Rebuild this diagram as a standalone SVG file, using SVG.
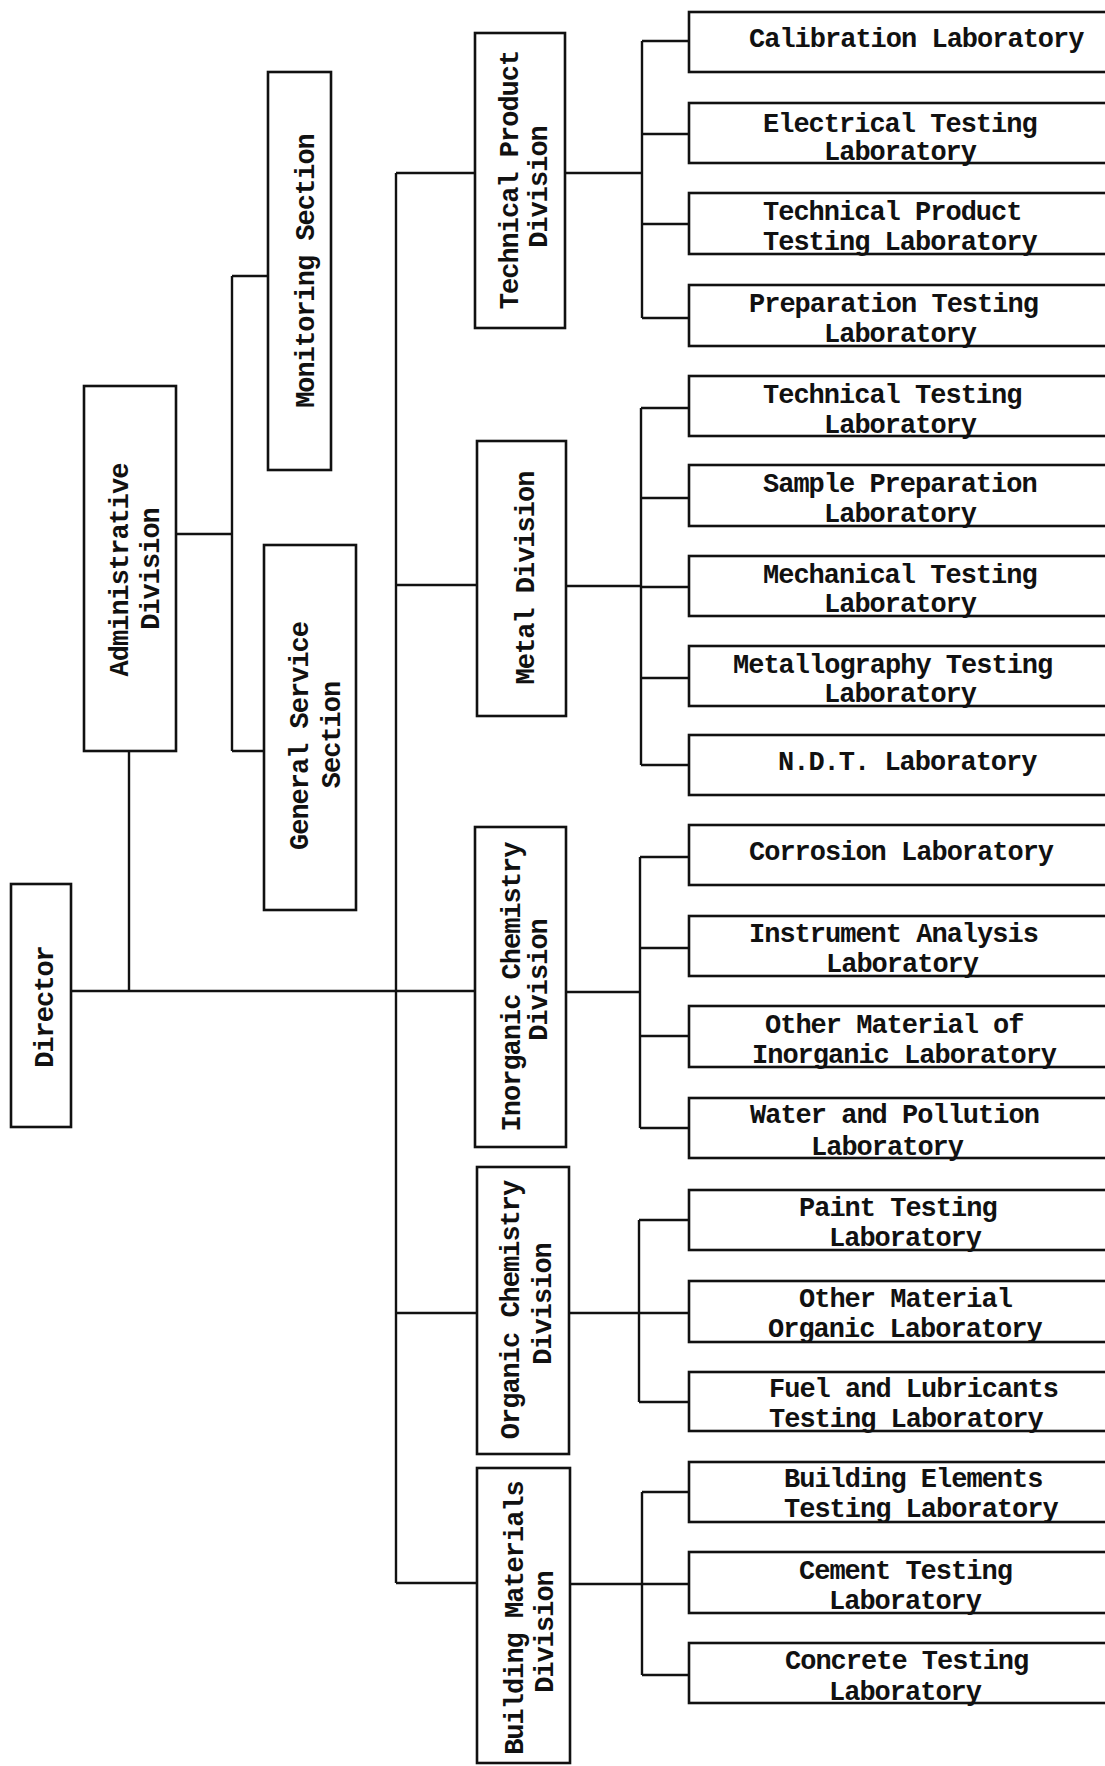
<svg xmlns="http://www.w3.org/2000/svg" width="1105" height="1766" viewBox="0 0 1105 1766">
<style>
.bx{fill:none;stroke:#111;stroke-width:2.6}
.ln{fill:none;stroke:#111;stroke-width:2.4}
text{font-family:"Liberation Mono","DejaVu Sans Mono",monospace;font-size:27px;letter-spacing:-1px;font-weight:bold;fill:#111}
.r{text-anchor:middle}
</style>
<rect width="1105" height="1766" fill="#fff"/>
<g id="connectors" class="ln">
<path d="M72,991H475M129,751V991M176,534H232M232,276V751M232,276H268M232,751H264"/>
<path d="M396,173V1583M396,173H475M396,585H477M396,1313H477M396,1583H477"/>
<path d="M565,173H642M642,41V318M642,41H689M642,134H689M642,224H689M642,318H689"/>
<path d="M566,586H641M641,408V765M641,408H689M641,498H689M641,587H689M641,678H689M641,765H689"/>
<path d="M566,992H640M640,857V1128M640,857H689M640,948H689M640,1036H689M640,1128H689"/>
<path d="M569,1313H639M639,1220V1402M639,1220H689M639,1313H689M639,1402H689"/>
<path d="M570,1584H642M642,1492V1675M642,1492H689M642,1584H689M642,1675H689"/>
</g>
<g id="director"><rect class="bx" x="11" y="884" width="60" height="243"/><text class="r" transform="translate(53,1007) rotate(-90)">Director</text></g>
<g id="administrative-division"><rect class="bx" x="84" y="386" width="92" height="365"/><text class="r" transform="translate(128,570) rotate(-90)">Administrative</text><text class="r" transform="translate(159,569) rotate(-90)">Division</text></g>
<g id="monitoring-section"><rect class="bx" x="268" y="72" width="63" height="398"/><text class="r" transform="translate(314,271) rotate(-90)">Monitoring Section</text></g>
<g id="general-service-section"><rect class="bx" x="264" y="545" width="92" height="365"/><text class="r" transform="translate(308,736) rotate(-90)">General Service</text><text class="r" transform="translate(340,735) rotate(-90)">Section</text></g>
<g id="technical-product-division"><rect class="bx" x="475" y="33" width="90" height="295"/><text class="r" transform="translate(518,180) rotate(-90)">Technical Product</text><text class="r" transform="translate(547,187) rotate(-90)">Division</text></g>
<g id="metal-division"><rect class="bx" x="477" y="441" width="89" height="275"/><text class="r" transform="translate(534,578) rotate(-90)">Metal Division</text></g>
<g id="inorganic-chemistry-division"><rect class="bx" x="475" y="827" width="91" height="320"/><text class="r" transform="translate(520,987) rotate(-90)">Inorganic Chemistry</text><text class="r" transform="translate(547,980) rotate(-90)">Division</text></g>
<g id="organic-chemistry-division"><rect class="bx" x="477" y="1167" width="92" height="287"/><text class="r" transform="translate(519,1310) rotate(-90)">Organic Chemistry</text><text class="r" transform="translate(551,1304) rotate(-90)">Division</text></g>
<g id="building-materials-division"><rect class="bx" x="477" y="1468" width="93" height="295"/><text class="r" transform="translate(523,1618) rotate(-90)">Building Materials</text><text class="r" transform="translate(553,1632) rotate(-90)">Division</text></g>
<g id="lab-calibration"><rect class="bx" x="689" y="12" width="440" height="60"/><text x="749" y="47">Calibration Laboratory</text></g>
<g id="lab-electrical"><rect class="bx" x="689" y="103" width="440" height="60"/><text x="763" y="132">Electrical Testing</text><text x="824" y="160">Laboratory</text></g>
<g id="lab-technical-product"><rect class="bx" x="689" y="193" width="440" height="61"/><text x="763" y="220">Technical Product</text><text x="763" y="250">Testing Laboratory</text></g>
<g id="lab-preparation"><rect class="bx" x="689" y="285" width="440" height="61"/><text x="749" y="312">Preparation Testing</text><text x="824" y="342">Laboratory</text></g>
<g id="lab-technical-testing"><rect class="bx" x="689" y="376" width="440" height="60"/><text x="763" y="403">Technical Testing</text><text x="824" y="433">Laboratory</text></g>
<g id="lab-sample-preparation"><rect class="bx" x="689" y="465" width="440" height="61"/><text x="763" y="492">Sample Preparation</text><text x="824" y="522">Laboratory</text></g>
<g id="lab-mechanical"><rect class="bx" x="689" y="556" width="440" height="60"/><text x="763" y="583">Mechanical Testing</text><text x="824" y="612">Laboratory</text></g>
<g id="lab-metallography"><rect class="bx" x="689" y="646" width="440" height="60"/><text x="733" y="673">Metallography Testing</text><text x="824" y="702">Laboratory</text></g>
<g id="lab-ndt"><rect class="bx" x="689" y="735" width="440" height="60"/><text x="778" y="770">N.D.T. Laboratory</text></g>
<g id="lab-corrosion"><rect class="bx" x="689" y="825" width="440" height="60"/><text x="749" y="860">Corrosion Laboratory</text></g>
<g id="lab-instrument"><rect class="bx" x="689" y="916" width="440" height="60"/><text x="749" y="942">Instrument Analysis</text><text x="826" y="972">Laboratory</text></g>
<g id="lab-other-inorganic"><rect class="bx" x="689" y="1006" width="440" height="61"/><text x="765" y="1033">Other Material of</text><text x="752" y="1063">Inorganic Laboratory</text></g>
<g id="lab-water"><rect class="bx" x="689" y="1098" width="440" height="60"/><text x="750" y="1123">Water and Pollution</text><text x="811" y="1155">Laboratory</text></g>
<g id="lab-paint"><rect class="bx" x="689" y="1190" width="440" height="60"/><text x="799" y="1216">Paint Testing</text><text x="829" y="1246">Laboratory</text></g>
<g id="lab-other-organic"><rect class="bx" x="689" y="1281" width="440" height="61"/><text x="799" y="1307">Other Material</text><text x="768" y="1337">Organic Laboratory</text></g>
<g id="lab-fuel"><rect class="bx" x="689" y="1372" width="440" height="59"/><text x="769" y="1397">Fuel and Lubricants</text><text x="769" y="1427">Testing Laboratory</text></g>
<g id="lab-building-elements"><rect class="bx" x="689" y="1462" width="440" height="60"/><text x="784" y="1487">Building Elements</text><text x="784" y="1517">Testing Laboratory</text></g>
<g id="lab-cement"><rect class="bx" x="689" y="1552" width="440" height="61"/><text x="799" y="1579">Cement Testing</text><text x="829" y="1609">Laboratory</text></g>
<g id="lab-concrete"><rect class="bx" x="689" y="1643" width="440" height="60"/><text x="785" y="1669">Concrete Testing</text><text x="829" y="1700">Laboratory</text></g>
</svg>
